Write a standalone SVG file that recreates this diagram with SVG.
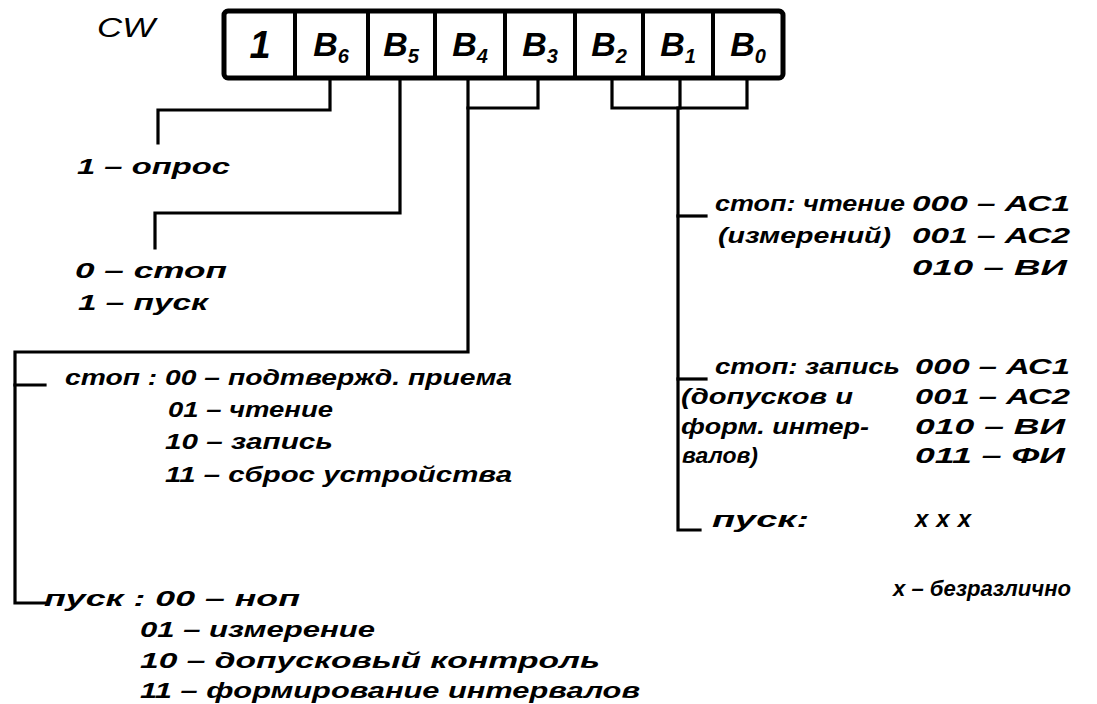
<svg xmlns="http://www.w3.org/2000/svg" width="1097" height="704" viewBox="0 0 1097 704">
<style>
text{font-family:"Liberation Sans","DejaVu Sans",sans-serif;font-style:italic;font-weight:bold;fill:#000;font-size:22px}
.lbl{font-size:34px;text-anchor:middle}
.sub{font-size:20px}
.cw{font-size:27px;font-weight:normal}
.big{font-size:24px}
.line{fill:none;stroke:#000;stroke-width:3.2;stroke-linejoin:miter;stroke-linecap:square}
.frame{fill:#fff;stroke:#000;stroke-width:5}
.div{stroke:#000;stroke-width:4}
</style>
<rect width="1097" height="704" fill="#fff"/>
<g id="title"><text class="cw" x="97" y="37" textLength="58" lengthAdjust="spacingAndGlyphs">CW</text></g>
<g id="register">
<rect class="frame" x="224" y="11" width="559" height="67" rx="4"/>
<line class="div" x1="295" y1="11" x2="295" y2="78"/>
<line class="div" x1="368" y1="11" x2="368" y2="78"/>
<line class="div" x1="435" y1="11" x2="435" y2="78"/>
<line class="div" x1="505" y1="11" x2="505" y2="78"/>
<line class="div" x1="575" y1="11" x2="575" y2="78"/>
<line class="div" x1="643" y1="11" x2="643" y2="78"/>
<line class="div" x1="713" y1="11" x2="713" y2="78"/>
<text class="lbl" x="260" y="58" style="font-size:38px">1</text>
<text class="lbl" x="331" y="56">B<tspan class="sub" dy="7">6</tspan></text>
<text class="lbl" x="401" y="56">B<tspan class="sub" dy="7">5</tspan></text>
<text class="lbl" x="470" y="56">B<tspan class="sub" dy="7">4</tspan></text>
<text class="lbl" x="540" y="56">B<tspan class="sub" dy="7">3</tspan></text>
<text class="lbl" x="609" y="56">B<tspan class="sub" dy="7">2</tspan></text>
<text class="lbl" x="678" y="56">B<tspan class="sub" dy="7">1</tspan></text>
<text class="lbl" x="748" y="56">B<tspan class="sub" dy="7">0</tspan></text>
</g>
<g id="connectors">
<polyline class="line" points="330,78 330,110 158,110 158,143"/>
<polyline class="line" points="400,78 400,213 155,213 155,248"/>
<polyline class="line" points="538,78 538,108 468,108"/>
<polyline class="line" points="468,78 468,352 15,352 15,603 45,603"/>
<polyline class="line" points="15,385 45,385"/>
<polyline class="line" points="612,78 612,108 747,108 747,78"/>
<polyline class="line" points="680,78 680,108 678,108 678,530 700,530"/>
<polyline class="line" points="678,216 706,216"/>
<polyline class="line" points="678,379 706,379"/>
</g>
<g id="b6-legend">
<text x="77" y="174" textLength="153" lengthAdjust="spacingAndGlyphs">1 – опрос</text>
</g>
<g id="b5-legend">
<text x="75" y="278" textLength="152" lengthAdjust="spacingAndGlyphs">0 – стоп</text>
<text x="78" y="310" textLength="130" lengthAdjust="spacingAndGlyphs">1 – пуск</text>
</g>
<g id="b4b3-stop">
<text x="65" y="385" textLength="447" lengthAdjust="spacingAndGlyphs">стоп : 00 – подтвержд. приема</text>
<text x="168" y="417" textLength="165" lengthAdjust="spacingAndGlyphs">01 – чтение</text>
<text x="165" y="449" textLength="168" lengthAdjust="spacingAndGlyphs">10 – запись</text>
<text x="165" y="482" textLength="347" lengthAdjust="spacingAndGlyphs">11 – сброс устройства</text>
</g>
<g id="b4b3-start">
<text x="44" y="606" textLength="256" lengthAdjust="spacingAndGlyphs">пуск : 00 – ноп</text>
<text x="140" y="637" textLength="235" lengthAdjust="spacingAndGlyphs">01 – измерение</text>
<text x="140" y="668" textLength="460" lengthAdjust="spacingAndGlyphs">10 – допусковый контроль</text>
<text x="140" y="698" textLength="500" lengthAdjust="spacingAndGlyphs">11 – формирование интервалов</text>
</g>
<g id="b2b0-read">
<text x="715" y="211" textLength="190" lengthAdjust="spacingAndGlyphs">стоп: чтение</text>
<text x="912" y="211" textLength="158" lengthAdjust="spacingAndGlyphs">000 – АС1</text>
<text x="718" y="243" textLength="173" lengthAdjust="spacingAndGlyphs">(измерений)</text>
<text x="912" y="243" textLength="158" lengthAdjust="spacingAndGlyphs">001 – АС2</text>
<text x="912" y="275" textLength="155" lengthAdjust="spacingAndGlyphs">010 – ВИ</text>
</g>
<g id="b2b0-write">
<text x="715" y="374" textLength="185" lengthAdjust="spacingAndGlyphs">стоп: запись</text>
<text x="915" y="374" textLength="155" lengthAdjust="spacingAndGlyphs">000 – АС1</text>
<text x="681" y="404" textLength="172" lengthAdjust="spacingAndGlyphs">(допусков и</text>
<text x="915" y="404" textLength="155" lengthAdjust="spacingAndGlyphs">001 – АС2</text>
<text x="681" y="434" textLength="188" lengthAdjust="spacingAndGlyphs">форм. интер-</text>
<text x="915" y="434" textLength="150" lengthAdjust="spacingAndGlyphs">010 – ВИ</text>
<text x="682" y="463" textLength="76" lengthAdjust="spacingAndGlyphs">валов)</text>
<text x="915" y="463" textLength="150" lengthAdjust="spacingAndGlyphs">011 – ФИ</text>
</g>
<g id="b2b0-start">
<text x="712" y="527" textLength="97" lengthAdjust="spacingAndGlyphs">пуск:</text>
<text class="big" x="915" y="527" textLength="56" lengthAdjust="spacing">xxx</text>
<text x="893" y="596" textLength="178" lengthAdjust="spacingAndGlyphs">x – безразлично</text>
</g>
</svg>
